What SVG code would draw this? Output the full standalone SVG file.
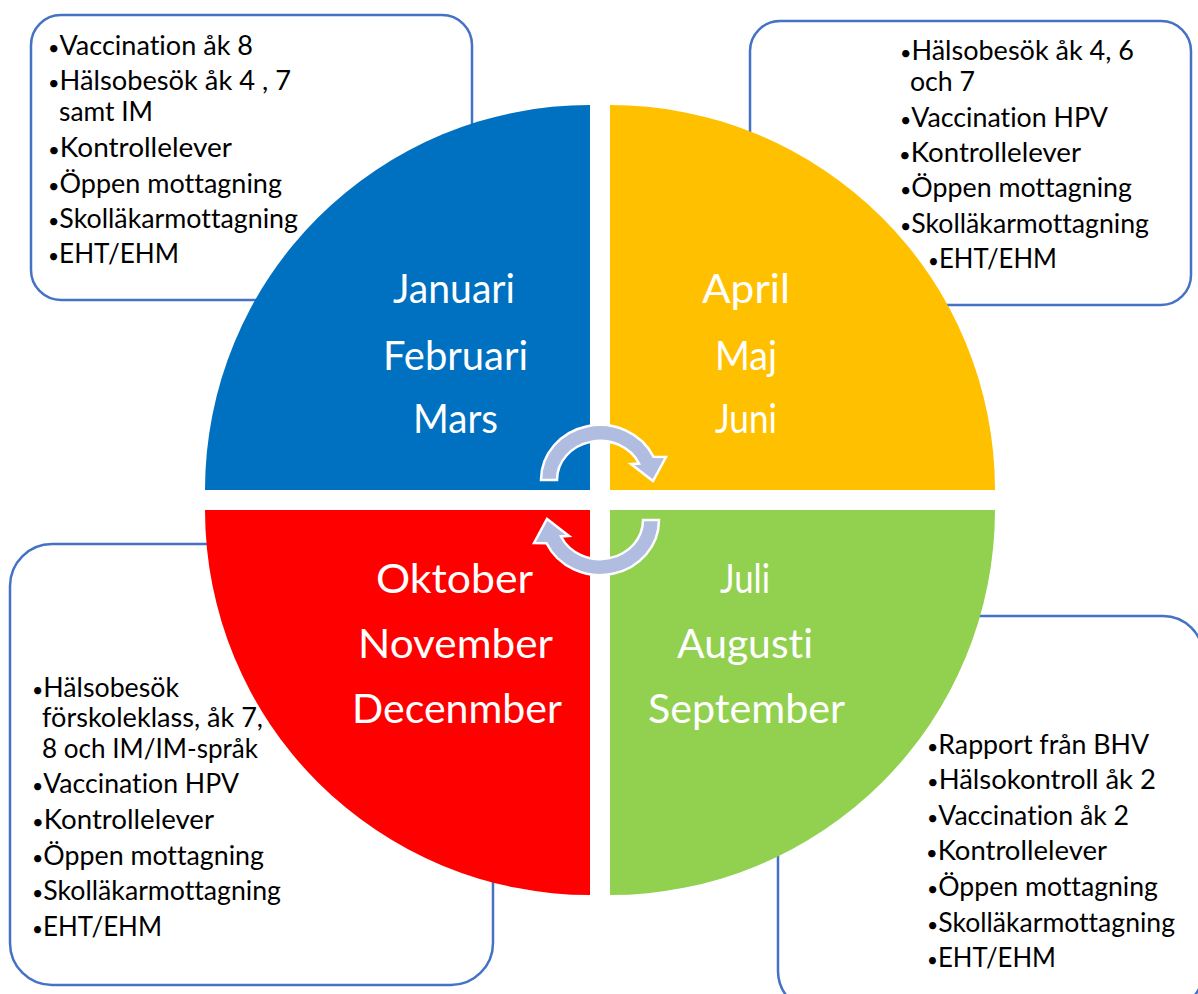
<svg xmlns="http://www.w3.org/2000/svg" width="1198" height="994" viewBox="0 0 1198 994">
  <style>
    .box { fill: #FFFFFF; stroke: #4472C4; stroke-width: 2.5; }
    .item { font-family: Lato, "Open Sans", "Liberation Sans", sans-serif; font-size: 26px; fill: #000000; font-variant-ligatures: none; font-feature-settings: "liga" 0, "clig" 0, "dlig" 0; }
    .b { font-size: 19px; }
    .month { font-family: Lato, "Open Sans", "Liberation Sans", sans-serif; font-size: 40px; fill: #FFFFFF; font-variant-ligatures: none; font-feature-settings: "liga" 0, "clig" 0, "dlig" 0; }
    .cycle { fill: #B1BDE0; stroke: #FFFFFF; stroke-width: 2.5; stroke-linejoin: miter; }
  </style>
  <defs>
    <!-- curved cycle arrow, drawn over the top of the centre -->
    <path id="cycle-arrow" d="M 541 480 A 59 55 0 0 1 653.5 456.7 L 666 457 L 653 481 L 631 464 L 639 463.5 A 43 39 0 0 0 557 480 Z"/>
  </defs>

  <!-- activity boxes (behind the wheel) -->
  <g id="box-q1">
    <rect class="box" x="31" y="15" width="441" height="285" rx="30"/>
    <text class="item" x="48" y="55" textLength="205" lengthAdjust="spacingAndGlyphs"><tspan class="b">•</tspan>Vaccination åk 8</text>
    <text class="item" x="48" y="90" textLength="243" lengthAdjust="spacingAndGlyphs"><tspan class="b">•</tspan>Hälsobesök åk 4 , 7</text>
    <text class="item" x="59" y="121" textLength="94" lengthAdjust="spacingAndGlyphs">samt IM</text>
    <text class="item" x="48" y="157" textLength="184" lengthAdjust="spacingAndGlyphs"><tspan class="b">•</tspan>Kontrollelever</text>
    <text class="item" x="48" y="193" textLength="234" lengthAdjust="spacingAndGlyphs"><tspan class="b">•</tspan>Öppen mottagning</text>
    <text class="item" x="48" y="228" textLength="250" lengthAdjust="spacingAndGlyphs"><tspan class="b">•</tspan>Skolläkarmottagning</text>
    <text class="item" x="48" y="263" textLength="131" lengthAdjust="spacingAndGlyphs"><tspan class="b">•</tspan>EHT/EHM</text>
  </g>

  <g id="box-q2">
    <rect class="box" x="750" y="21" width="441" height="284" rx="30"/>
    <text class="item" x="900" y="60" textLength="234" lengthAdjust="spacingAndGlyphs"><tspan class="b">•</tspan>Hälsobesök åk 4, 6</text>
    <text class="item" x="910" y="91" textLength="65" lengthAdjust="spacingAndGlyphs">och 7</text>
    <text class="item" x="900" y="127" textLength="208" lengthAdjust="spacingAndGlyphs"><tspan class="b">•</tspan>Vaccination HPV</text>
    <text class="item" x="899" y="162" textLength="182" lengthAdjust="spacingAndGlyphs"><tspan class="b">•</tspan>Kontrollelever</text>
    <text class="item" x="900" y="197" textLength="232" lengthAdjust="spacingAndGlyphs"><tspan class="b">•</tspan>Öppen mottagning</text>
    <text class="item" x="900" y="233" textLength="249" lengthAdjust="spacingAndGlyphs"><tspan class="b">•</tspan>Skolläkarmottagning</text>
    <text class="item" x="928" y="268" textLength="129" lengthAdjust="spacingAndGlyphs"><tspan class="b">•</tspan>EHT/EHM</text>
  </g>

  <g id="box-q4">
    <rect class="box" x="10" y="544" width="483" height="441" rx="42"/>
    <text class="item" x="32" y="697" textLength="147" lengthAdjust="spacingAndGlyphs"><tspan class="b">•</tspan>Hälsobesök</text>
    <text class="item" x="42" y="727" textLength="221" lengthAdjust="spacingAndGlyphs">förskoleklass, åk 7,</text>
    <text class="item" x="42" y="758" textLength="216" lengthAdjust="spacingAndGlyphs">8 och IM/IM-språk</text>
    <text class="item" x="32" y="793" textLength="207" lengthAdjust="spacingAndGlyphs"><tspan class="b">•</tspan>Vaccination HPV</text>
    <text class="item" x="32" y="829" textLength="182" lengthAdjust="spacingAndGlyphs"><tspan class="b">•</tspan>Kontrollelever</text>
    <text class="item" x="32" y="865" textLength="232" lengthAdjust="spacingAndGlyphs"><tspan class="b">•</tspan>Öppen mottagning</text>
    <text class="item" x="32" y="900" textLength="249" lengthAdjust="spacingAndGlyphs"><tspan class="b">•</tspan>Skolläkarmottagning</text>
    <text class="item" x="32" y="936" textLength="130" lengthAdjust="spacingAndGlyphs"><tspan class="b">•</tspan>EHT/EHM</text>
  </g>

  <g id="box-q3">
    <rect class="box" x="778" y="616" width="425" height="395" rx="40"/>
    <text class="item" x="927" y="754" textLength="222" lengthAdjust="spacingAndGlyphs"><tspan class="b">•</tspan>Rapport från BHV</text>
    <text class="item" x="927" y="789" textLength="229" lengthAdjust="spacingAndGlyphs"><tspan class="b">•</tspan>Hälsokontroll åk 2</text>
    <text class="item" x="927" y="825" textLength="202" lengthAdjust="spacingAndGlyphs"><tspan class="b">•</tspan>Vaccination åk 2</text>
    <text class="item" x="926" y="860" textLength="181" lengthAdjust="spacingAndGlyphs"><tspan class="b">•</tspan>Kontrollelever</text>
    <text class="item" x="927" y="896" textLength="231" lengthAdjust="spacingAndGlyphs"><tspan class="b">•</tspan>Öppen mottagning</text>
    <text class="item" x="927" y="932" textLength="248" lengthAdjust="spacingAndGlyphs"><tspan class="b">•</tspan>Skolläkarmottagning</text>
    <text class="item" x="927" y="967" textLength="129" lengthAdjust="spacingAndGlyphs"><tspan class="b">•</tspan>EHT/EHM</text>
  </g>

  <!-- wheel quadrants -->
  <g id="q1-winter">
    <path d="M 590 490 L 205 490 A 385 385 0 0 1 590 105 Z" fill="#0070C0"/>
    <text class="month" x="393" y="303" textLength="122" lengthAdjust="spacingAndGlyphs">Januari</text>
    <text class="month" x="383" y="370" textLength="145" lengthAdjust="spacingAndGlyphs">Februari</text>
    <text class="month" x="413" y="433" textLength="85" lengthAdjust="spacingAndGlyphs">Mars</text>
  </g>

  <g id="q2-spring">
    <path d="M 610 490 L 610 105 A 385 385 0 0 1 995 490 Z" fill="#FFC000"/>
    <text class="month" x="702" y="303" textLength="88" lengthAdjust="spacingAndGlyphs">April</text>
    <text class="month" x="715" y="370" textLength="62" lengthAdjust="spacingAndGlyphs">Maj</text>
    <text class="month" x="715" y="433" textLength="62" lengthAdjust="spacingAndGlyphs">Juni</text>
  </g>

  <g id="q3-summer">
    <path d="M 610 510 L 995 510 A 385 385 0 0 1 610 895 Z" fill="#92D050"/>
    <text class="month" x="720" y="593" textLength="50" lengthAdjust="spacingAndGlyphs">Juli</text>
    <text class="month" x="677" y="658" textLength="136" lengthAdjust="spacingAndGlyphs">Augusti</text>
    <text class="month" x="648" y="723" textLength="197" lengthAdjust="spacingAndGlyphs">September</text>
  </g>

  <g id="q4-autumn">
    <path d="M 590 510 L 590 895 A 385 385 0 0 1 205 510 Z" fill="#FF0000"/>
    <text class="month" x="376" y="593" textLength="157" lengthAdjust="spacingAndGlyphs">Oktober</text>
    <text class="month" x="358" y="658" textLength="195" lengthAdjust="spacingAndGlyphs">November</text>
    <text class="month" x="352" y="723" textLength="210" lengthAdjust="spacingAndGlyphs">Decenmber</text>
  </g>

  <!-- cycle connectors -->
  <g id="connectors">
    <use href="#cycle-arrow" class="cycle"/>
    <use href="#cycle-arrow" class="cycle" transform="rotate(180 600 500)"/>
  </g>
</svg>
